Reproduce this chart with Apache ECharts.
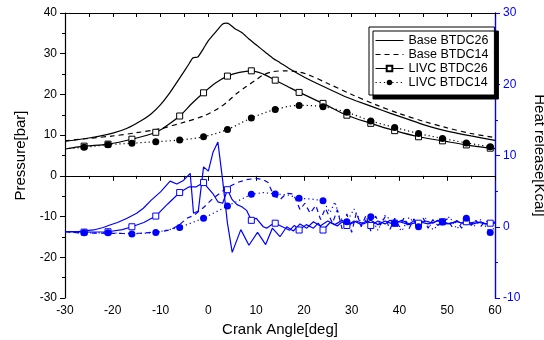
<!DOCTYPE html>
<html>
<head>
<meta charset="utf-8">
<script src="https://cdn.jsdelivr.net/npm/echarts@6/dist/echarts.min.js"></script>
<style>html,body{margin:0;padding:0;background:#fff;}#c{width:544px;height:340px;}</style>
</head>
<body>
<div id="c"></div>
<script>
// ---- data ----
const seriesNames = ['Base BTDC26', 'Base BTDC14', 'LIVC BTDC26', 'LIVC BTDC14'];
const markerAngles = [-26,-21,-16,-11,-6,-1,4,9,14,19,24,29,34,39,44,49,54,59];

// Pressure [bar] vs crank angle [deg]
const pBase26 = [[-30,8.5],[-25,9.3],[-20,10.5],[-17,11.7],[-14,13.6],[-12,15.2],[-10,17.5],[-8,20.5],[-6,24.0],[-4,27.6],[-3.2,29.0],[-2.2,29.2],[-1,31.3],[0,33.2],[1,34.6],[2,36.0],[3,37.3],[3.8,37.5],[4.5,37.2],[5.5,36.2],[7,35.2],[8.5,33.6],[10,32.2],[12,30.3],[13.5,28.9],[15,27.8],[17,26.3],[20,24.3],[24,22.0],[28,19.8],[31,18.4],[35,16.7],[38,15.4],[42,13.8],[45,12.6],[50,11.0],[55,9.8],[60,8.7]];
const pBase14 = [[-30,8.6],[-25,9.2],[-20,9.8],[-15,10.6],[-10,11.6],[-5,13.2],[-1,14.7],[2,16.5],[4,18.2],[6,20.3],[8,22.0],[10,23.6],[11.5,24.8],[13.5,25.6],[16,25.8],[19,25.5],[21,24.8],[25,22.7],[30,20.0],[35,17.5],[40,15.3],[45,13.4],[50,11.8],[55,10.4],[60,9.4]];
const pLivc26 = [[-30,6.6],[-26,7.3],[-21,7.8],[-16,9.0],[-11,10.7],[-8.5,12.5],[-6,14.7],[-3.5,17.7],[-1,20.4],[1.5,22.8],[4,24.5],[6.5,25.4],[9,25.8],[11.5,25.0],[14,23.5],[16.5,22.0],[19,20.5],[24,17.8],[29,14.9],[34,12.9],[39,11.1],[44,9.6],[49,8.6],[54,7.6],[59,6.8],[60,6.7]];
const pLivc14 = [[-30,6.7],[-26,7.0],[-21,7.65],[-16,8.0],[-11,8.4],[-6,8.8],[-1,9.6],[4,11.4],[9,14.2],[14,16.3],[19,17.3],[24,17.0],[29,15.6],[34,13.5],[39,11.9],[44,10.4],[49,9.2],[54,8.1],[59,7.15],[60,7.0]];

// Heat release [Kcal] vs crank angle [deg]
const hBase26 = [[-30,-0.7],[-27,-0.65],[-24,-0.45],[-22,-0.1],[-20.6,0.25],[-19,0.6],[-17,1.2],[-15,1.9],[-13.6,2.6],[-12,3.7],[-10,4.9],[-8,6.4],[-6.6,6.0],[-5.2,6.5],[-3.8,7.5],[-3.1,1.9],[-2.1,2.2],[-1,8.4],[0,7.8],[1,10.5],[2,11.9],[3,6.5],[4,0.5],[5,-3.6],[6.8,-0.4],[8.5,-2.6],[10.3,-0.8],[12,-2.5],[13.4,-0.2],[15,-1.4],[16.4,0.0],[17.8,-0.6],[19.2,0.4],[20.6,-0.2],[22,0.7],[23.4,0.1],[25,0.8],[26.5,0.3],[28,0.9],[29.5,0.3],[31,0.8],[32.5,0.4],[34,0.9],[35.5,0.3],[37,0.8],[38.5,0.4],[40,0.7],[42,0.3],[44,0.7],[46,0.4],[48,0.8],[50,0.4],[52,0.7],[54,0.4],[56,0.7],[58,0.4],[60,0.5]];
const hBase14 = [[-30,-0.7],[-26,-0.9],[-22,-0.9],[-18,-0.95],[-14,-0.9],[-10,-0.7],[-8,-0.45],[-6,0.3],[-4.5,1.2],[-3,1.6],[-1,2.7],[0.7,3.8],[2,4.5],[4,5.5],[6,6.2],[8,6.6],[10,6.8],[11.5,6.6],[12.5,6.2],[13.6,4.5],[15,3.8],[16.4,4.7],[17.8,4.6],[19.2,2.4],[20.2,3.3],[21.3,1.9],[22.5,3.0],[23.5,1.0],[24.5,2.6],[26,0.5],[27,2.4],[28,-0.3],[29,1.8],[30,-0.8],[31,2.0],[32,0.0],[33,1.6],[34,-0.6],[35,1.5],[36,0.2],[37,1.4],[38,-0.4],[39,1.2],[40,0.0],[41,1.3],[42,-0.3],[43,1.1],[44,0.2],[45,1.2],[46,-0.2],[47,1.0],[48,0.2],[50,1.1],[51,0.0],[52,0.9],[53,-0.2],[54,1.0],[55,0.2],[56,0.9],[57,0.0],[58,0.9],[59,0.3],[60,0.7]];
const hLivc26 = [[-30,-0.7],[-26,-0.75],[-21,-0.7],[-18,-0.4],[-16,0.0],[-13.5,0.6],[-11,1.5],[-8.5,3.2],[-6,4.8],[-4,5.6],[-2.5,5.6],[-1,6.2],[0,5.4],[1,4.6],[2,3.5],[3,3.3],[4,5.2],[5,3.8],[6,3.1],[7,2.8],[8,2.3],[9,0.9],[10,1.2],[11.5,0.0],[12.2,-0.2],[13.3,0.3],[14,0.5],[15.5,0.0],[17,-0.5],[18,0.2],[19,-0.46],[20.5,0.3],[22,-0.2],[23,0.5],[24,-0.46],[25.5,0.6],[27,0.1],[28,0.7],[29,0.18],[30.5,0.8],[32,0.3],[33,0.8],[34,0.18],[35.5,0.8],[37,0.4],[38,0.9],[39,0.5],[40.5,0.9],[42,0.4],[43,0.8],[44,0.5],[45.5,0.8],[47,0.5],[48,0.9],[49,0.7],[50.5,0.4],[52,0.8],[53,0.5],[54,0.7],[55.5,0.4],[57,0.7],[58,0.4],[59,0.5],[60,0.6]];
const hLivc14 = [[-30,-0.75],[-26,-0.85],[-21,-0.85],[-16,-1.0],[-11,-0.8],[-6,-0.1],[-1,1.2],[4,2.9],[9,4.55],[11.5,4.8],[14,4.6],[16.5,4.5],[19,4.0],[21.5,3.9],[24,3.65],[25.5,2.0],[26.5,3.5],[27.5,1.2],[29,0.7],[30.5,2.5],[32,0.5],[34,1.4],[35.5,-0.5],[37,1.6],[39,0.5],[40.5,-0.6],[42,1.3],[44,0.0],[45.5,1.2],[47,-0.4],[49,0.65],[50.5,1.4],[52,-0.3],[54,1.2],[55.5,0.0],[57,1.0],[59,-0.8],[60,0.0]];

// axis ranges
const angleRange = [-30, 60, 10];
const pressureRange = [-30, 40, 10];
const heatRange = [-10, 30, 10];

// ---- build ----
const BLACK = '#000000';
const BLUE = '#0000ff';
const FONT = 'Liberation Sans, Arial, sans-serif';

function withMarkers(arr) {
  return arr.map(p => markerAngles.indexOf(p[0]) >= 0 ? { value: p } : { value: p, symbol: 'none' });
}

function mk(name, data, color, yIdx, kind) {
  const s = {
    name: name, type: 'line', xAxisIndex: 0, yAxisIndex: yIdx,
    data: data, z: yIdx === 0 ? 4 : 3,
    lineStyle: { color: color, width: 1.2, type: 'solid' },
    symbol: 'rect', showSymbol: false,
    itemStyle: { color: 'rgba(0,0,0,0)', borderColor: 'rgba(0,0,0,0)', borderWidth: 0 },
    emphasis: { disabled: true }, animation: false
  };
  if (kind === 'dash') s.lineStyle.type = [5, 4];
  if (kind === 'sq') {
    s.data = withMarkers(data);
    s.showSymbol = true; s.showAllSymbol = true;
    s.symbol = 'rect'; s.symbolSize = 6;
    s.itemStyle = { color: '#fff', borderColor: color, borderWidth: 1 };
  }
  if (kind === 'dot') {
    s.data = withMarkers(data);
    s.showSymbol = true; s.showAllSymbol = true;
    s.symbol = 'circle'; s.symbolSize = 7;
    s.lineStyle.type = [1.2, 3];
    s.itemStyle = { color: color, borderColor: color, borderWidth: 0 };
  }
  return s;
}

const series = [
  mk(seriesNames[0], pBase26, BLACK, 0, 'solid'),
  mk(seriesNames[1], pBase14, BLACK, 0, 'dash'),
  mk(seriesNames[2], pLivc26, BLACK, 0, 'sq'),
  mk(seriesNames[3], pLivc14, BLACK, 0, 'dot'),
  mk(seriesNames[0], hBase26, BLUE, 1, 'solid'),
  mk(seriesNames[1], hBase14, BLUE, 1, 'dash'),
  mk(seriesNames[2], hLivc26, BLUE, 1, 'sq'),
  mk(seriesNames[3], hLivc14, BLUE, 1, 'dot')
];
series[0].smooth = 0.2; series[1].smooth = 0.3; series[2].smooth = 0.35; series[3].smooth = 0.35;

const chart = echarts.init(document.getElementById('c'), null, { renderer: 'canvas' });
chart.setOption({
  animation: false,
  backgroundColor: '#fff',
  textStyle: { fontFamily: FONT },
  grid: { left: 65, right: 49, top: 13, bottom: 42, containLabel: false, outerBoundsMode: 'none' },
  legend: {
    data: seriesNames,
    orient: 'vertical', left: 369, top: 27,
    itemWidth: 28, itemHeight: 7, itemGap: 1,
    padding: [7, 6, 6, 6],
    backgroundColor: '#fff', borderColor: '#000', borderWidth: 1,
    shadowColor: '#000', shadowBlur: 0, shadowOffsetX: 4, shadowOffsetY: 4,
    lineStyle: { width: 1 },
    textStyle: { fontFamily: FONT, fontSize: 12.5, color: '#000' },
    selectedMode: false
  },
  xAxis: [
    {
      type: 'value', position: 'bottom', min: angleRange[0], max: angleRange[1], interval: angleRange[2],
      name: 'Crank Angle[deg]', nameLocation: 'middle', nameGap: 22,
      nameTextStyle: { fontFamily: FONT, fontSize: 15, color: '#000' },
      axisLine: { show: true, lineStyle: { color: BLACK, width: 1.2 } },
      axisTick: { show: true, inside: false, length: 5, lineStyle: { color: BLACK } },
      minorTick: { show: true, splitNumber: 2, length: 3, lineStyle: { color: BLACK } },
      axisLabel: { color: '#000', fontSize: 12, margin: 7, fontFamily: FONT },
      splitLine: { show: false }
    },
    {
      type: 'value', position: 'top', min: angleRange[0], max: angleRange[1], interval: 5,
      axisLine: { show: true, onZero: false, lineStyle: { color: BLACK, width: 1.2 } },
      axisTick: { show: true, inside: true, length: 4, lineStyle: { color: BLACK } },
      axisLabel: { show: false }, splitLine: { show: false }
    }
  ],
  yAxis: [
    {
      type: 'value', position: 'left', min: pressureRange[0], max: pressureRange[1], interval: pressureRange[2],
      name: 'Pressure[bar]', nameLocation: 'middle', nameGap: 37,
      nameTextStyle: { fontFamily: FONT, fontSize: 15, color: '#000' },
      axisLine: { show: true, onZero: false, lineStyle: { color: BLACK, width: 1.2 } },
      axisTick: { show: true, inside: false, length: 5, lineStyle: { color: BLACK } },
      minorTick: { show: true, splitNumber: 2, length: 3, lineStyle: { color: BLACK } },
      axisLabel: { color: '#000', fontSize: 12, margin: 8, fontFamily: FONT },
      splitLine: { show: false }
    },
    {
      type: 'value', position: 'right', min: heatRange[0], max: heatRange[1], interval: heatRange[2],
      name: 'Heat release[Kcal]', nameLocation: 'middle', nameGap: 36, nameRotate: -90,
      nameTextStyle: { fontFamily: FONT, fontSize: 15, color: '#000' },
      axisLine: { show: true, onZero: false, lineStyle: { color: BLUE, width: 1.4 } },
      axisTick: { show: true, inside: false, length: 5, lineStyle: { color: BLUE } },
      minorTick: { show: true, splitNumber: 2, length: 3, lineStyle: { color: BLUE } },
      axisLabel: { color: BLUE, fontSize: 12, margin: 8, fontFamily: FONT },
      splitLine: { show: false }
    }
  ],
  series: series
});
</script>
</body>
</html>
